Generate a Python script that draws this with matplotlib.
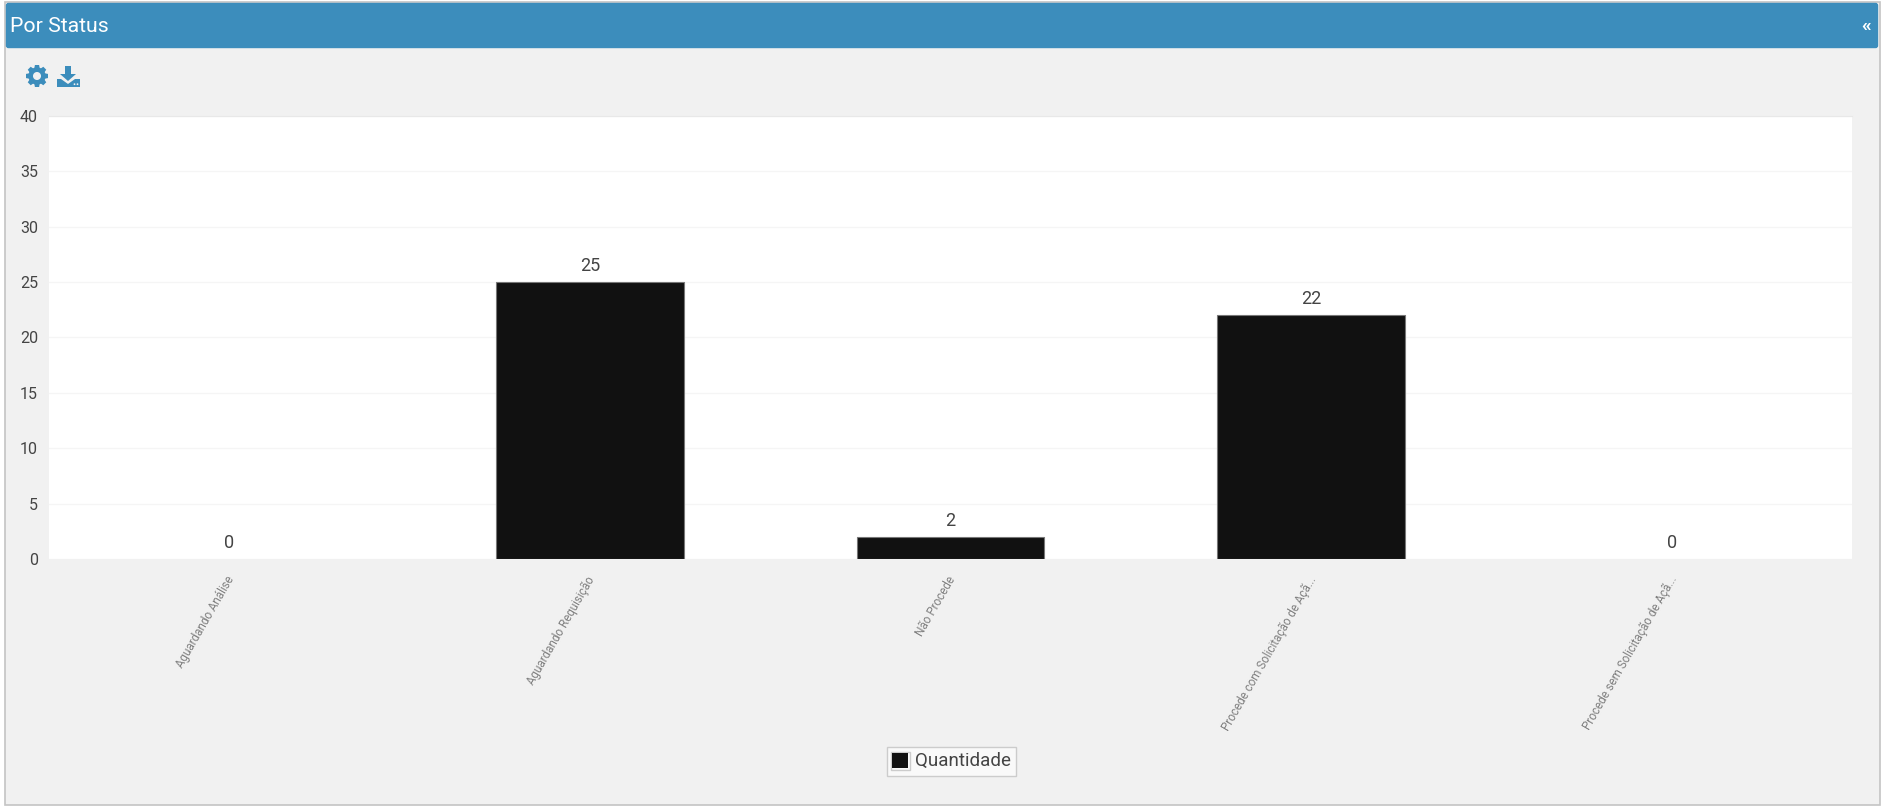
import numpy as np
import matplotlib
matplotlib.use("Agg")
import matplotlib.pyplot as plt
from matplotlib.patches import Rectangle, FancyBboxPatch, Polygon, Circle, Wedge

categories = ["Aguardando Análise", "Aguardando Requisição", "Não Procede",
              "Procede com Solicitação de Açã...", "Procede sem Solicitação de Açã..."]
quantidade = [0, 25, 2, 22, 0]
y_ticks = [0, 5, 10, 15, 20, 25, 30, 35, 40]
series_name = "Quantidade"
panel_title = "Por Status"

W, H = 1884, 808
BLUE = "#3c8dbc"
PANEL = "#f1f1f1"
plt.rcParams["font.family"] = ["Roboto", "DejaVu Sans"]

fig = plt.figure(figsize=(W / 100, H / 100), dpi=100, facecolor="white")

# Full-figure overlay in pixel coordinates for the panel chrome
bg = fig.add_axes([0, 0, 1, 1], zorder=0)
bg.set_xlim(0, W)
bg.set_ylim(H, 0)
bg.axis("off")
bg.add_patch(Rectangle((4.5, 1.5), 1875, 803, fc=PANEL, ec="#c4c4c4", lw=1.2))
bg.add_patch(FancyBboxPatch((6.5, 3.5), 1871, 44, boxstyle="round,pad=0,rounding_size=2",
                            fc=BLUE, ec=BLUE, lw=1))
bg.text(10.5, 26, panel_title, color="white", fontsize=15.3, va="center", ha="left")
bg.text(1866, 26, "«", color="white", fontsize=14, va="center", ha="center", fontweight="bold")

# Gear icon
cx, cy = 37, 76
for a in np.arange(0, 360, 45):
    t = np.deg2rad(a)
    d = np.array([np.cos(t), np.sin(t)])
    n = np.array([-d[1], d[0]])
    c = np.array([cx, cy])
    bg.add_patch(Polygon([c + 7 * d + 2.8 * n, c + 11 * d + 2.1 * n,
                          c + 11 * d - 2.1 * n, c + 7 * d - 2.8 * n], fc=BLUE, ec="none"))
bg.add_patch(Wedge((cx, cy), 8.6, 0, 360, width=4.6, fc=BLUE, ec="none"))

# Download icon
bg.add_patch(Polygon([(65, 66), (71, 66), (71, 74), (76, 74), (68, 81), (60, 74), (65, 74)],
                     fc=BLUE, ec="none"))
bg.add_patch(Polygon([(57, 79), (61, 79), (68, 84), (75, 79), (80, 79), (80, 87), (57, 87)],
                     fc=BLUE, ec="none"))
bg.add_patch(Circle((74.5, 84.2), 0.9, fc=PANEL, ec="none"))
bg.add_patch(Circle((77.5, 84.2), 0.9, fc=PANEL, ec="none"))

# Plot area
left, right, top, bottom = 49, 1852, 116, 559
ax = fig.add_axes([left / W, 1 - bottom / H, (right - left) / W, (bottom - top) / H], zorder=1)
ax.set_facecolor("white")
x = np.arange(len(categories))
bars = ax.bar(x, quantidade, width=0.52, color="#111111", edgecolor="#777777",
              linewidth=0.8, zorder=3, label=series_name)
for bar, v in zip(bars, quantidade):
    # Empty categories leave no outline on the baseline
    if v == 0:
        bar.set_linewidth(0)
ax.set_xlim(-0.5, len(categories) - 0.5)
ax.set_ylim(0, 40)
ax.set_yticks(y_ticks)
ax.grid(axis="y", color="#f5f5f5", lw=1, zorder=0)
ax.set_axisbelow(True)
for s in ax.spines.values():
    s.set_visible(False)
ax.spines["top"].set_visible(True)
ax.spines["top"].set_color("#e8e8e8")
ax.tick_params(axis="y", length=0, pad=8, labelsize=11.5, labelcolor="#444444")
ax.set_xticks(x)
ax.set_xticklabels([])
ax.tick_params(axis="x", length=0)

for xi, v in zip(x, quantidade):
    ax.annotate(str(v), (xi, v), xytext=(0, 5.2), textcoords="offset points",
                ha="center", va="bottom", fontsize=13, color="#444444", zorder=4)

# Slanted category labels, anchored at their upper end
for xi, lab in zip(x, categories):
    px = left + (xi + 0.5) * (right - left) / len(categories) + 2
    bg.text(px, 577, lab, rotation=60, rotation_mode="anchor", ha="right", va="center",
            fontsize=8.4, color="#808080")

# Legend box
bg.add_patch(Rectangle((886.5, 746.5), 129, 29, fc="#f9f9f9", ec="#cccccc", lw=1))
bg.add_patch(Rectangle((890.5, 751.5), 19, 18, fc="#f9f9f9", ec="#cccccc", lw=1))
bg.add_patch(Rectangle((892, 753), 16, 15, fc="#111111", ec="none"))
bg.text(915, 761, series_name, fontsize=13.5, color="#444444", va="center", ha="left")

fig.savefig("out.png", dpi=100, facecolor=fig.get_facecolor())
